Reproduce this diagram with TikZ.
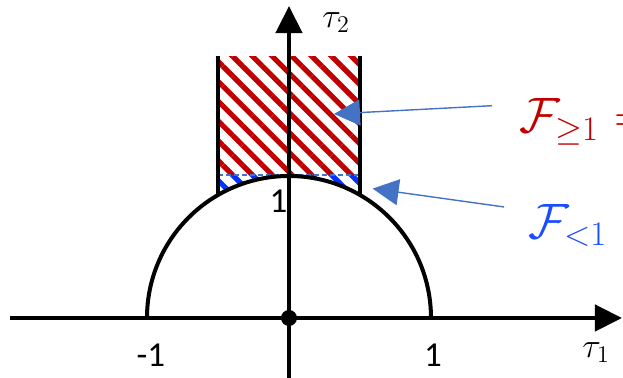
\documentclass[tikz,border=0pt]{standalone}
\usepackage{fontspec}
\setmainfont{Carlito}
\usetikzlibrary{arrows.meta,patterns.meta}
\definecolor{hatchred}{HTML}{C00000}
\definecolor{hatchblue}{HTML}{0033FF}
\definecolor{callout}{HTML}{4472C4}
\definecolor{labelblue}{HTML}{1A4DFF}
\tikzset{
  axis/.style={line width=2.25pt,-{Triangle[length=13.5pt,width=13pt]}},
  curve/.style={line width=2pt},
  calloutarrow/.style={draw=callout,line width=0.7pt,-{Triangle[length=13pt,width=13pt]},fill=callout},
  numlabel/.style={inner sep=0pt,font=\fontsize{17.5}{20}\selectfont},
  taulabel/.style={inner sep=0pt,anchor=base west,font=\fontsize{17}{20}\selectfont},
  setlabel/.style={inner sep=0pt,anchor=base west,font=\fontsize{24}{28}\selectfont},
}
\begin{document}
\begin{tikzpicture}[x=71pt,y=71pt]
\useasboundingbox (-2.0352,-0.42254) rectangle (2.35211,2.23944);
\clip (-2.0352,-0.42254) rectangle (2.35211,2.23944);
% hatched regions
\fill[pattern={Lines[angle=-45,distance=7pt,line width=2.6pt]},pattern color=hatchred]
  (-0.5,1) rectangle (0.5,1.838);
\fill[pattern={Lines[angle=-45,distance=7pt,line width=2.6pt]},pattern color=hatchblue]
  (-0.5,1) -- (0.5,1) -- (0.5,0.866) arc[start angle=60,end angle=120,radius=1] -- cycle;
\draw[callout,line width=0.6pt,dash pattern=on 2.5pt off 1.5pt] (-0.5,1.007) -- (0.5,1.007);
% unit circle arc and strip walls
\draw[curve] (1,0) arc[start angle=0,end angle=180,radius=1];
\draw[curve] (-0.5,0.866) -- (-0.5,1.845);
\draw[curve] (0.5,0.866) -- (0.5,1.845);
% axes
\coordinate (xs) at (-1.965,0);
\coordinate (xe) at (2.345,0);
\coordinate (ys) at (0,-0.43);
\coordinate (ye) at (0,2.197);
\draw[axis] (xs) -- (xe);
\draw[axis] (ys) -- (ye);
\fill (0,0) circle[radius=4pt];
% labels
\node[numlabel] (m1) at (-0.972,-0.261) {-1};
\node[numlabel] (p1) at (1.014,-0.261) {1};
\node[numlabel] (top1) at (-0.074,0.824) {1};
\node[taulabel] (t2) at (0.232,2.049) {$\tau_2$};
\node[taulabel] (t1) at (2.063,-0.275) {$\tau_1$};
\node[setlabel,text=hatchred] (fge) at (1.620,1.303) {$\mathcal{F}_{\geq 1}$\,\,$=$};
\node[setlabel,text=labelblue] (flt) at (1.683,0.563) {$\mathcal{F}_{<1}$};
% callouts
\coordinate (c1s) at (1.430,1.495);
\coordinate (c1e) at (0.317,1.437);
\coordinate (c2s) at (1.514,0.782);
\coordinate (c2e) at (0.589,0.911);
\draw[calloutarrow] (c1s) -- (c1e);
\draw[calloutarrow] (c2s) -- (c2e);
\end{tikzpicture}
\end{document}
